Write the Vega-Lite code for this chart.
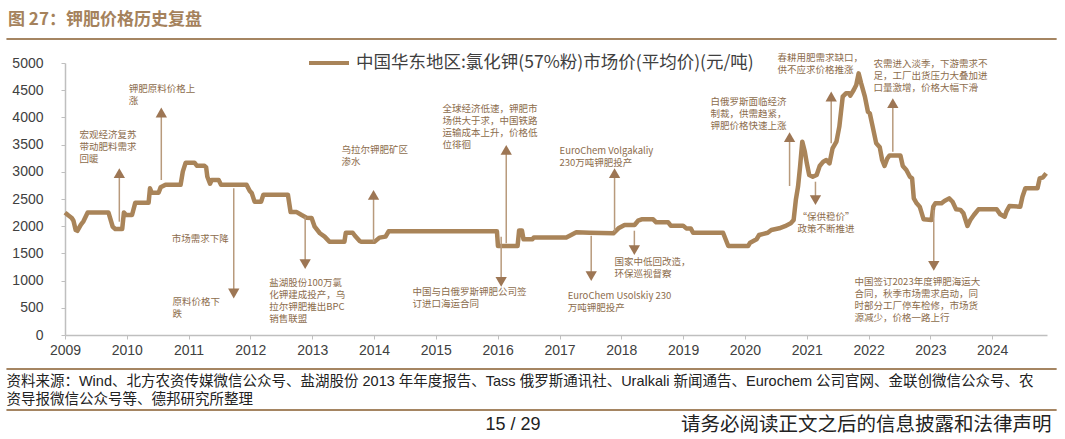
{
  "$schema": "https://vega.github.io/schema/vega-lite/v6.json",
  "autosize": {"type": "none"},
  "padding": {"left": 65, "top": 63, "right": 18, "bottom": 104},
  "width": 982,
  "height": 272,
  "background": "white",
  "title": {"text": "图 27：钾肥价格历史复盘", "anchor": "start", "frame": "group", "dx": -57, "offset": 9, "fontSize": 17, "fontWeight": "bold", "color": "#a5825c", "font": "Noto Sans CJK SC"},
  "config": {"view": {"stroke": null}},
  "datasets": {
    "price": [
      {"date": "2009-01-01", "value": 2250}, {"date": "2009-01-20", "value": 2200}, {"date": "2009-02-10", "value": 2150}, {"date": "2009-02-20", "value": 2100},
      {"date": "2009-03-05", "value": 1930}, {"date": "2009-03-15", "value": 1915}, {"date": "2009-04-05", "value": 2030}, {"date": "2009-04-20", "value": 2090},
      {"date": "2009-05-15", "value": 2250}, {"date": "2009-09-15", "value": 2250}, {"date": "2009-10-10", "value": 1990}, {"date": "2009-10-25", "value": 1950},
      {"date": "2009-12-05", "value": 1950}, {"date": "2009-12-15", "value": 2250}, {"date": "2009-12-28", "value": 2205}, {"date": "2010-02-01", "value": 2205},
      {"date": "2010-02-20", "value": 2430}, {"date": "2010-05-10", "value": 2430}, {"date": "2010-05-18", "value": 2696}, {"date": "2010-05-28", "value": 2616},
      {"date": "2010-07-08", "value": 2616}, {"date": "2010-07-20", "value": 2714}, {"date": "2010-08-18", "value": 2760}, {"date": "2010-11-15", "value": 2760},
      {"date": "2010-11-28", "value": 3002}, {"date": "2010-12-15", "value": 3168}, {"date": "2011-02-05", "value": 3168}, {"date": "2011-02-20", "value": 3110},
      {"date": "2011-04-05", "value": 3110}, {"date": "2011-04-15", "value": 3080}, {"date": "2011-04-22", "value": 2910}, {"date": "2011-05-08", "value": 2780},
      {"date": "2011-05-18", "value": 2850}, {"date": "2011-06-28", "value": 2850}, {"date": "2011-07-12", "value": 2760}, {"date": "2011-12-10", "value": 2760},
      {"date": "2011-12-28", "value": 2650}, {"date": "2012-01-10", "value": 2604}, {"date": "2012-01-26", "value": 2451}, {"date": "2012-03-05", "value": 2451},
      {"date": "2012-03-18", "value": 2580}, {"date": "2012-08-10", "value": 2580}, {"date": "2012-08-26", "value": 2260}, {"date": "2012-10-01", "value": 2260},
      {"date": "2012-10-30", "value": 2206}, {"date": "2012-11-28", "value": 2157}, {"date": "2012-12-28", "value": 2150}, {"date": "2013-01-15", "value": 1991},
      {"date": "2013-02-15", "value": 1870}, {"date": "2013-03-15", "value": 1808}, {"date": "2013-04-12", "value": 1716}, {"date": "2013-07-10", "value": 1716},
      {"date": "2013-07-18", "value": 1880}, {"date": "2013-08-28", "value": 1880}, {"date": "2013-09-10", "value": 1825}, {"date": "2013-10-08", "value": 1728},
      {"date": "2013-10-15", "value": 1716}, {"date": "2014-01-05", "value": 1716}, {"date": "2014-02-02", "value": 1790}, {"date": "2014-03-10", "value": 1808},
      {"date": "2014-03-28", "value": 1906}, {"date": "2015-12-28", "value": 1906}, {"date": "2016-01-03", "value": 1636}, {"date": "2016-04-28", "value": 1636},
      {"date": "2016-05-07", "value": 1920}, {"date": "2016-05-24", "value": 1920}, {"date": "2016-06-02", "value": 1760}, {"date": "2016-07-25", "value": 1760},
      {"date": "2016-08-02", "value": 1793}, {"date": "2017-02-10", "value": 1793}, {"date": "2017-04-10", "value": 1888}, {"date": "2017-06-28", "value": 1880},
      {"date": "2017-11-15", "value": 1870}, {"date": "2017-12-15", "value": 1961}, {"date": "2018-01-20", "value": 2022}, {"date": "2018-03-20", "value": 2022},
      {"date": "2018-04-10", "value": 2101}, {"date": "2018-05-01", "value": 2127}, {"date": "2018-07-08", "value": 2127}, {"date": "2018-07-26", "value": 2071},
      {"date": "2018-10-05", "value": 2071}, {"date": "2018-10-20", "value": 2010}, {"date": "2019-01-01", "value": 2010}, {"date": "2019-01-20", "value": 1960},
      {"date": "2019-02-15", "value": 1960}, {"date": "2019-03-01", "value": 1880}, {"date": "2019-08-25", "value": 1880}, {"date": "2019-09-25", "value": 1636},
      {"date": "2020-01-20", "value": 1636}, {"date": "2020-02-01", "value": 1697}, {"date": "2020-03-10", "value": 1760}, {"date": "2020-03-25", "value": 1838},
      {"date": "2020-05-15", "value": 1880}, {"date": "2020-06-05", "value": 1930}, {"date": "2020-07-22", "value": 1961}, {"date": "2020-08-25", "value": 2000},
      {"date": "2020-09-28", "value": 2053}, {"date": "2020-10-15", "value": 2114}, {"date": "2020-10-28", "value": 2482}, {"date": "2020-11-10", "value": 2727},
      {"date": "2020-11-22", "value": 3094}, {"date": "2020-12-05", "value": 3554}, {"date": "2020-12-20", "value": 3370}, {"date": "2021-01-01", "value": 3156},
      {"date": "2021-01-15", "value": 2941}, {"date": "2021-02-05", "value": 2910}, {"date": "2021-02-28", "value": 2941}, {"date": "2021-03-18", "value": 3107},
      {"date": "2021-04-08", "value": 3186}, {"date": "2021-04-26", "value": 3217}, {"date": "2021-05-15", "value": 3156}, {"date": "2021-06-02", "value": 3431},
      {"date": "2021-06-25", "value": 3554}, {"date": "2021-07-12", "value": 3830}, {"date": "2021-08-01", "value": 4381}, {"date": "2021-08-20", "value": 4442},
      {"date": "2021-09-08", "value": 4442}, {"date": "2021-09-15", "value": 4400}, {"date": "2021-10-05", "value": 4504}, {"date": "2021-10-20", "value": 4596},
      {"date": "2021-11-03", "value": 4810}, {"date": "2021-11-18", "value": 4626}, {"date": "2021-12-10", "value": 4381}, {"date": "2021-12-28", "value": 4105},
      {"date": "2022-01-08", "value": 4075}, {"date": "2022-01-25", "value": 3830}, {"date": "2022-02-15", "value": 3523}, {"date": "2022-03-08", "value": 3450},
      {"date": "2022-03-22", "value": 3217}, {"date": "2022-04-05", "value": 3107}, {"date": "2022-04-22", "value": 3248}, {"date": "2022-05-05", "value": 3300},
      {"date": "2022-07-08", "value": 3300}, {"date": "2022-07-22", "value": 3107}, {"date": "2022-08-12", "value": 3033}, {"date": "2022-09-02", "value": 2910},
      {"date": "2022-09-15", "value": 2880}, {"date": "2022-09-25", "value": 2512}, {"date": "2022-10-12", "value": 2420}, {"date": "2022-10-30", "value": 2359},
      {"date": "2022-11-22", "value": 2127}, {"date": "2023-01-08", "value": 2114}, {"date": "2023-01-18", "value": 2359}, {"date": "2023-01-30", "value": 2420},
      {"date": "2023-03-08", "value": 2420}, {"date": "2023-03-25", "value": 2463}, {"date": "2023-04-22", "value": 2512}, {"date": "2023-05-12", "value": 2450},
      {"date": "2023-06-02", "value": 2310}, {"date": "2023-06-28", "value": 2300}, {"date": "2023-07-15", "value": 2237}, {"date": "2023-08-08", "value": 2004},
      {"date": "2023-08-25", "value": 2114}, {"date": "2023-09-15", "value": 2206}, {"date": "2023-10-12", "value": 2310}, {"date": "2024-01-28", "value": 2310},
      {"date": "2024-02-18", "value": 2218}, {"date": "2024-03-15", "value": 2175}, {"date": "2024-03-25", "value": 2267}, {"date": "2024-04-12", "value": 2371},
      {"date": "2024-06-15", "value": 2359}, {"date": "2024-06-28", "value": 2543}, {"date": "2024-07-15", "value": 2696}, {"date": "2024-09-25", "value": 2696},
      {"date": "2024-10-08", "value": 2880}, {"date": "2024-10-28", "value": 2900}, {"date": "2024-11-15", "value": 2972}
    ],
    "arrows": [
      {"date": "2009-11-18", "value": 2083, "value2": 2974},
      {"date": "2010-07-24", "value": 2849, "value2": 4090},
      {"date": "2011-09-25", "value": 2697, "value2": 763},
      {"date": "2012-11-20", "value": 2175, "value2": 1301},
      {"date": "2013-12-29", "value": 1715, "value2": 2577},
      {"date": "2016-01-22", "value": 1807, "value2": 978},
      {"date": "2016-02-21", "value": 1686, "value2": 3404},
      {"date": "2017-07-07", "value": 1825, "value2": 1081},
      {"date": "2017-11-22", "value": 1899, "value2": 2974},
      {"date": "2018-03-19", "value": 1917, "value2": 1559},
      {"date": "2020-09-21", "value": 2739, "value2": 3636},
      {"date": "2021-02-21", "value": 2818, "value2": 2478},
      {"date": "2021-05-25", "value": 3524, "value2": 4384},
      {"date": "2022-05-24", "value": 3369, "value2": 4261},
      {"date": "2023-01-21", "value": 2298, "value2": 1272}
    ],
    "heads": [
      {"date": "2009-11-18", "value": 2974, "dir": "up"},
      {"date": "2010-07-24", "value": 4090, "dir": "up"},
      {"date": "2011-09-25", "value": 763, "dir": "down"},
      {"date": "2012-11-20", "value": 1301, "dir": "down"},
      {"date": "2013-12-29", "value": 2577, "dir": "up"},
      {"date": "2016-01-22", "value": 978, "dir": "down"},
      {"date": "2016-02-21", "value": 3404, "dir": "up"},
      {"date": "2017-07-07", "value": 1081, "dir": "down"},
      {"date": "2017-11-22", "value": 2974, "dir": "up"},
      {"date": "2018-03-19", "value": 1559, "dir": "down"},
      {"date": "2020-09-21", "value": 3636, "dir": "up"},
      {"date": "2021-02-21", "value": 2478, "dir": "down"},
      {"date": "2021-05-25", "value": 4384, "dir": "up"},
      {"date": "2022-05-24", "value": 4261, "dir": "up"},
      {"date": "2023-01-21", "value": 1272, "dir": "down"}
    ],
    "notes": [
      {"date": "2009-03-27", "value": 3768, "text": "宏观经济复苏\n带动肥料需求\n回暖"},
      {"date": "2010-01-12", "value": 4623, "text": "钾肥原料价格上\n涨"},
      {"date": "2010-09-23", "value": 1857, "text": "市场需求下降"},
      {"date": "2010-09-28", "value": 699, "text": "原料价格下\n跌"},
      {"date": "2012-04-22", "value": 1048, "text": "盐湖股份100万氯\n化钾建成投产，乌\n拉尔钾肥推出BPC\n销售联盟"},
      {"date": "2013-06-23", "value": 3493, "text": "乌拉尔钾肥矿区\n渗水"},
      {"date": "2014-08-16", "value": 882, "text": "中国与白俄罗斯钾肥公司签\n订进口海运合同"},
      {"date": "2015-02-10", "value": 4246, "text": "全球经济低速，钾肥市\n场供大于求，中国铁路\n运输成本上升，价格低\n位徘徊"},
      {"date": "2017-02-18", "value": 809, "text": "EuroChem Usolskiy 230\n万吨钾肥投产"},
      {"date": "2017-01-01", "value": 3474, "text": "EuroChem Volgakaliy\n230万吨钾肥投产"},
      {"date": "2017-11-22", "value": 1434, "text": "国家中低回改造，\n环保巡视督察"},
      {"date": "2019-06-12", "value": 4375, "text": "白俄罗斯面临经济\n制裁，供需趋紧，\n钾肥价格快速上涨"},
      {"date": "2020-11-07", "value": 2261, "text": "“保供稳价”\n政策不断推进"},
      {"date": "2020-07-12", "value": 5184, "text": "春耕用肥需求缺口，\n供不应求价格推涨"},
      {"date": "2022-01-30", "value": 5074, "text": "农需进入淡季，下游需求不\n足，工厂出货压力大叠加进\n口量激增，价格大幅下滑"},
      {"date": "2021-10-10", "value": 1066, "text": "中国签订2023年度钾肥海运大\n合同，秋季市场需求启动，同\n时部分工厂停车检修，市场货\n源减少，价格一路上行"}
    ],
    "frame": [
      {"date": "2008-01-21", "date2": "2025-01-16", "value": 5441},
      {"date": "2008-01-21", "date2": "2025-01-16", "value": -625},
      {"date": "2008-01-21", "date2": "2025-01-16", "value": -1379}
    ],
    "source": [
      {"date": "2008-01-21", "value": -864, "text": "资料来源：Wind、北方农资传媒微信公众号、盐湖股份 2013 年年度报告、Tass 俄罗斯通讯社、Uralkali 新闻通告、Eurochem 公司官网、金联创微信公众号、农\n资导报微信公众号等、德邦研究所整理"}
    ],
    "page": [
      {"date": "2015-10-21", "value": -1654, "text": "15 / 29"}
    ],
    "disclaimer": [
      {"date": "2024-12-17", "value": -1654, "text": "请务必阅读正文之后的信息披露和法律声明"}
    ]
  },
  "encoding": {
    "x": {
      "field": "date", "type": "temporal",
      "scale": {"domain": [{"year": 2009, "month": 1, "date": 1}, {"year": 2024, "month": 11, "date": 20}], "nice": false},
      "axis": {"title": null, "format": "%Y", "tickCount": {"interval": "year", "step": 1}, "grid": false, "domainColor": "#bfbfbf", "domainWidth": 1.5, "tickColor": "#bfbfbf", "tickSize": 4, "labelPadding": 4, "labelFont": "Liberation Sans", "labelFontSize": 14, "labelColor": "#404040", "labelFlush": false}
    },
    "y": {
      "field": "value", "type": "quantitative",
      "scale": {"domain": [0, 5000], "nice": false},
      "axis": {"title": null, "format": "d", "values": [0, 500, 1000, 1500, 2000, 2500, 3000, 3500, 4000, 4500, 5000], "grid": false, "domainColor": "#bfbfbf", "domainWidth": 1.5, "tickColor": "#bfbfbf", "tickSize": 4, "labelPadding": 18, "labelFont": "Liberation Sans", "labelFontSize": 14, "labelColor": "#404040"}
    }
  },
  "layer": [
    {
      "data": {"name": "frame"},
      "mark": {"type": "rule", "color": "#a58562", "strokeWidth": 2},
      "encoding": {"x2": {"field": "date2"}}
    },
    {
      "data": {"name": "price"},
      "mark": {"type": "line", "strokeWidth": 4.5, "strokeJoin": "round"},
      "encoding": {
        "color": {
          "datum": "中国华东地区:氯化钾(57%粉)市场价(平均价)(元/吨)",
          "scale": {"range": ["#a98459"]},
          "legend": {"title": null, "orient": "none", "legendX": 242, "legendY": -22, "padding": 0, "symbolType": "stroke", "symbolSize": 1600, "symbolStrokeWidth": 4, "labelOffset": 5, "labelFont": "Noto Sans CJK SC", "labelFontSize": 17.5, "labelColor": "#3f3f3f", "labelLimit": 1000}
        }
      }
    },
    {
      "data": {"name": "arrows"},
      "mark": {"type": "rule", "color": "#b89a7c", "strokeWidth": 1.5},
      "encoding": {"y2": {"field": "value2"}}
    },
    {
      "data": {"name": "heads"},
      "mark": {"type": "point", "filled": true, "opacity": 1, "color": "#9d7654", "size": 128},
      "encoding": {
        "shape": {"field": "dir", "type": "nominal", "scale": {"domain": ["up", "down"], "range": ["triangle-up", "triangle-down"]}, "legend": null}
      }
    },
    {
      "data": {"name": "notes"},
      "mark": {"type": "text", "align": "left", "baseline": "top", "lineBreak": "\n", "lineHeight": 12, "font": "Noto Sans CJK SC", "fontSize": 9.5, "color": "#8c6c4c"},
      "encoding": {"text": {"field": "text"}}
    },
    {
      "data": {"name": "source"},
      "mark": {"type": "text", "align": "left", "baseline": "middle", "lineBreak": "\n", "lineHeight": 18, "font": "Liberation Sans, Noto Sans CJK SC", "fontSize": 14.5, "color": "#222222"},
      "encoding": {"text": {"field": "text"}}
    },
    {
      "data": {"name": "page"},
      "mark": {"type": "text", "align": "left", "baseline": "middle", "font": "Liberation Sans", "fontSize": 18, "color": "#222222"},
      "encoding": {"text": {"field": "text"}}
    },
    {
      "data": {"name": "disclaimer"},
      "mark": {"type": "text", "align": "right", "baseline": "middle", "font": "Noto Sans CJK SC", "fontSize": 19.5, "color": "#222222"},
      "encoding": {"text": {"field": "text"}}
    }
  ]
}
